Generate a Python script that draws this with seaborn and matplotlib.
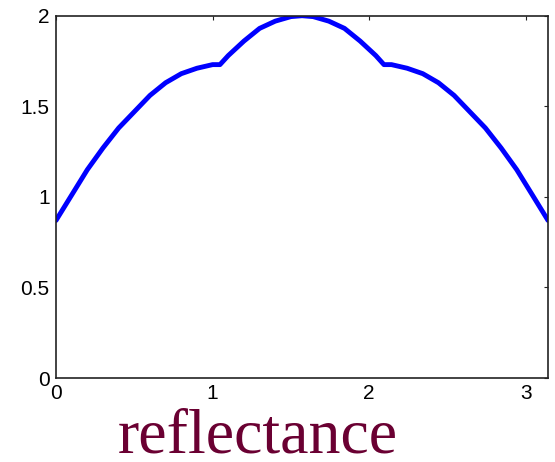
import matplotlib
matplotlib.use("Agg")
import matplotlib.pyplot as plt
from matplotlib.ticker import FuncFormatter
import numpy as np
import pandas as pd
import seaborn as sns

# Angle samples (radians) and the reflectance values
angle = [0.0, 0.1, 0.2, 0.3, 0.4, 0.5, 0.6, 0.7, 0.8, 0.9, 1.0, 1.047,
         1.1, 1.2, 1.3, 1.4, 1.5, 1.571, 1.642, 1.742, 1.842, 1.942, 2.042,
         2.094, 2.142, 2.242, 2.342, 2.442, 2.542, 2.642, 2.742, 2.842,
         2.942, 3.042, 3.1416]
reflect = [0.87, 1.01, 1.15, 1.27, 1.38, 1.47, 1.56, 1.63, 1.68, 1.71, 1.73, 1.73,
           1.78, 1.86, 1.93, 1.97, 1.995, 2.0, 1.995, 1.97, 1.93, 1.86, 1.78,
           1.73, 1.73, 1.71, 1.68, 1.63, 1.56, 1.47, 1.38, 1.27,
           1.15, 1.01, 0.87]

x_ticks = [0, 1, 2, 3]
y_ticks = [0, 0.5, 1, 1.5, 2]
caption = "reflectance"

df = pd.DataFrame({"angle": angle, "reflectance": reflect})

sns.set_style("white")
plt.rcParams["font.family"] = ["Liberation Sans", "DejaVu Sans"]

fig = plt.figure(figsize=(5.55, 4.62), dpi=100)
ax = fig.add_axes([0.1009, 0.1818, 0.8865, 0.7842])

sns.lineplot(data=df, x="angle", y="reflectance", ax=ax, color="#0000FF",
             linewidth=3.5, sort=False, estimator=None)

ax.set_xlim(0, np.pi)
ax.set_ylim(0, 2)
ax.set_xticks(x_ticks)
ax.set_yticks(y_ticks)
fmt = FuncFormatter(lambda v, p: "%g" % v)
ax.xaxis.set_major_formatter(fmt)
ax.yaxis.set_major_formatter(fmt)
ax.set_xlabel("")
ax.set_ylabel("")

for s in ax.spines.values():
    s.set_visible(True)
    s.set_color("#222222")
    s.set_linewidth(1.2)

ax.tick_params(axis="both", direction="in", length=3, width=0.8,
               top=True, right=True, labelsize=15, colors="#222222",
               labelcolor="black")
ax.tick_params(axis="y", pad=4.5)
ax.tick_params(axis="x", pad=4)

fig.text(0.464, 0.0195, caption, ha="center", va="baseline",
         fontsize=46, color="#6A0032", family=["Liberation Serif", "DejaVu Serif"])

fig.savefig("out.png", dpi=100, facecolor="white")
